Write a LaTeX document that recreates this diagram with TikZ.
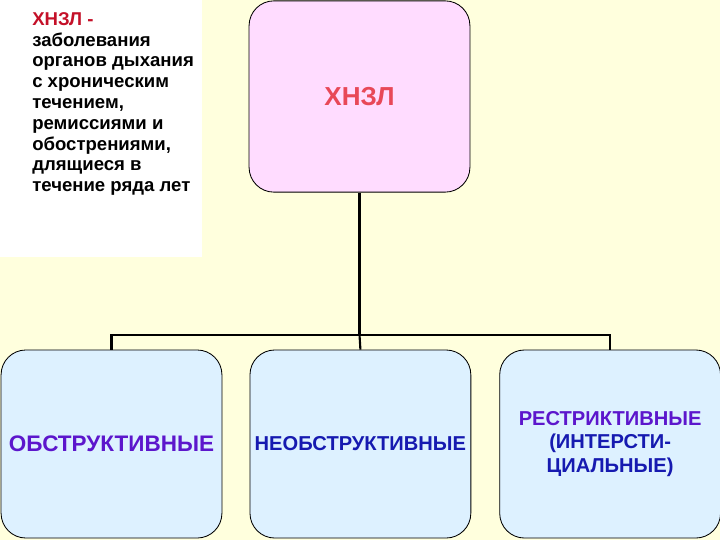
\documentclass[tikz,border=0pt]{standalone}
\usepackage{fontspec}
\setmainfont{Liberation Sans}
\usetikzlibrary{positioning}
\definecolor{PageBg}     {RGB}{255, 255, 221}
\definecolor{NoteBg}     {RGB}{255, 255, 255}
\definecolor{RootBg}     {RGB}{255, 220, 255}
\definecolor{RootRed}    {RGB}{232,  72,  88}
\definecolor{NoteRed}    {RGB}{196,  16,  40}
\definecolor{LeafBg}     {RGB}{221, 241, 255}
\definecolor{LeafPurple} {RGB}{ 92,  22, 204}
\definecolor{LeafBlue}   {RGB}{ 22,  26, 176}
\tikzset{
  % Root box (top)
  rootbox/.style={
    rectangle, rounded corners=0.62cm,
    fill=RootBg, draw=black, line width=0.6pt,
    text=RootRed, font=\bfseries\fontsize{18.5}{20}\selectfont,
    minimum width=5.52cm, minimum height=4.78cm,
    align=center
  },
  % Category box (bottom row)
  leafbox/.style={
    rectangle, rounded corners=0.62cm,
    fill=LeafBg, draw=black, line width=0.6pt,
    font=\bfseries\fontsize{14.3}{16.7}\selectfont,
    minimum width=5.52cm, minimum height=4.7cm,
    align=center
  },
  % Definition text (top left)
  notetext/.style={
    font=\bfseries\fontsize{13.2}{14.8}\selectfont,
    align=left, inner sep=0pt
  },
  % Tree lines
  trunk/.style={line width=2pt, color=black},
  branch/.style={line width=1.5pt, color=black}
}
\begin{document}
\begin{tikzpicture}[x=0.025cm, y=-0.025cm]

  % ── Page ──────────────────────────────────────────────────────────────
  \useasboundingbox (0,0) rectangle (720,540);
  \fill[PageBg] (0,0) rectangle (720,540);
  \fill[NoteBg] (0,0) rectangle (202,257);

  % ── Definition ────────────────────────────────────────────────────────
  \node[notetext, anchor=north west] (note) at (32,12)
        {\textcolor{NoteRed}{ХНЗЛ -}\\
         заболевания\\
         органов дыхания\\
         с хроническим\\
         течением,\\
         ремиссиями и\\
         обострениями,\\
         длящиеся в\\
         течение ряда лет};

  % ── Root ──────────────────────────────────────────────────────────────
  \node[rootbox] (hnzl) at (359.5,96.5) {ХНЗЛ};

  % ── Categories ────────────────────────────────────────────────────────
  \node[leafbox, text=LeafPurple, font=\bfseries\fontsize{16}{18}\selectfont]
        (obstr) at (111.5,444) {ОБСТРУКТИВНЫЕ};
  \node[leafbox, text=LeafBlue, right=0.68cm of obstr] (neobstr)
        {НЕОБСТРУКТИВНЫЕ};
  \node[leafbox, right=0.7cm of neobstr] (restr)
        {\textcolor{LeafPurple}{РЕСТРИКТИВНЫЕ}\\
         \textcolor{LeafBlue}{(ИНТЕРСТИ-}\\
         \textcolor{LeafBlue}{ЦИАЛЬНЫЕ)}};

  % ── Tree lines ────────────────────────────────────────────────────────
  \coordinate[below=3.55cm of hnzl.south] (fork);
  \draw[trunk]  (hnzl.south) -- (fork);
  \draw[branch] (obstr.north) |- (fork);
  \draw[branch] (neobstr.north) -- (fork);
  \draw[branch] (restr.north) |- (fork);

\end{tikzpicture}
\end{document}
